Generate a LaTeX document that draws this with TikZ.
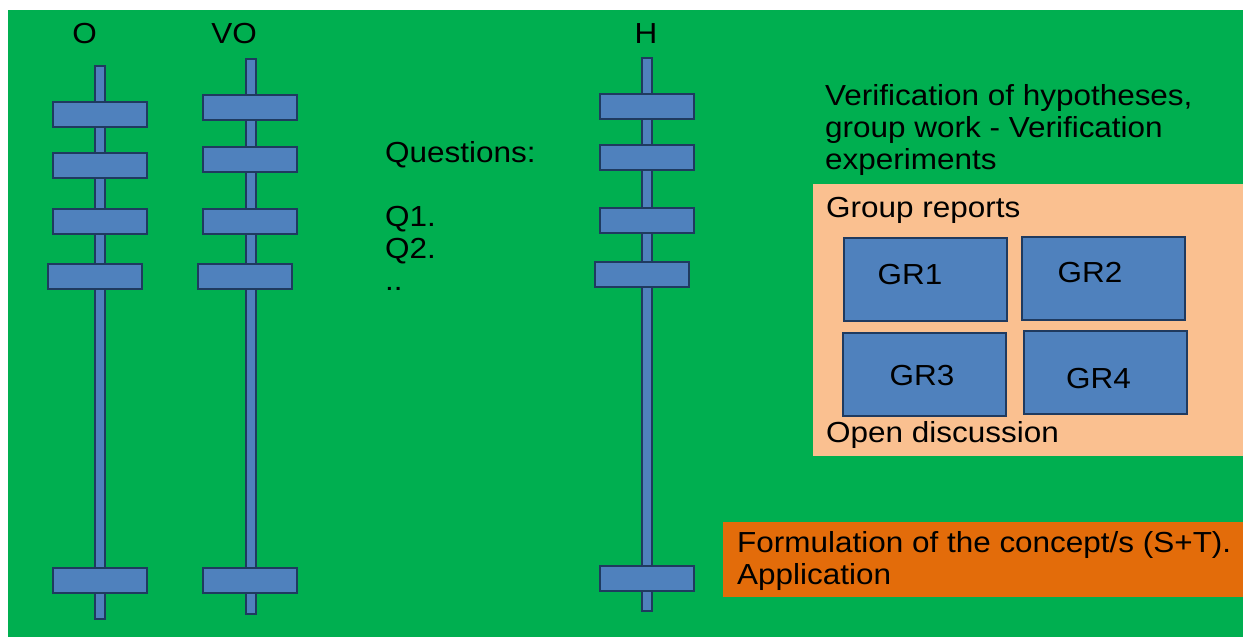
\documentclass[tikz,border=0pt]{standalone}
\usepackage{fontspec}
\setmainfont[FakeStretch=1.085]{Liberation Sans}
\usetikzlibrary{positioning}

\definecolor{bggreen}{HTML}{00AF50}
\definecolor{peach}{HTML}{FAC090}
\definecolor{deeporange}{HTML}{E36C0A}
\definecolor{boxblue}{HTML}{4F81BD}
\definecolor{edgeblue}{HTML}{1F3A5F}

\begin{document}
\begin{tikzpicture}[x=1pt, y=-1pt,
  pole/.style={draw=edgeblue, fill=boxblue, line width=2pt, minimum width=10pt, inner sep=0pt},
  slab/.style={draw=edgeblue, fill=boxblue, line width=2pt, minimum width=94pt, minimum height=25pt, inner sep=0pt},
  grbox/.style={draw=edgeblue, fill=boxblue, line width=2pt, minimum width=163pt, minimum height=83pt, inner sep=0pt},
  txt/.style={inner sep=0pt, font=\fontsize{29}{32}\selectfont, align=left}]
\fill[white] (0,0) rectangle (1243,637);
\fill[bggreen] (8,10) rectangle (1243,637);

% the three poles with their slabs
\node[txt, anchor=base] (labO) at (84.5,43) {O};
\node[txt, anchor=base] (labVO) at (234,43) {VO};
\node[txt, anchor=base] (labH) at (646,43) {H};

\node[pole, minimum height=553pt] (Opole) at (100,342.5) {};
\foreach \x/\y [count=\i] in {100/114.5,100/165.5,100/221.5,94.5/276.5,100/580}
  \node[slab] (O\i) at (\x,\y) {};

\node[pole, minimum height=555pt] (VOpole) at (250.5,336.5) {};
\foreach \x/\y [count=\i] in {250/107.5,250/159.5,250/221.5,244.5/276.5,250/580}
  \node[slab] (VO\i) at (\x,\y) {};

\node[pole, minimum height=553pt] (Hpole) at (646.5,334.5) {};
\foreach \x/\y [count=\i] in {647/106,647/157,647/220,641.5/274.5,647/578}
  \node[slab] (H\i) at (\x,\y) {};

% questions
\node[txt, anchor=north west] (quest) at (385,141) {Questions:\\[32pt]Q1.\\Q2.\\..};

% verification and group reports
\node[txt, anchor=north west] (verif) at (825,84)
  {Verification of hypotheses,\\group work - Verification\\experiments};
\fill[peach] (813,184) rectangle (1243,456);
\node[txt, anchor=base west] (reports) at (826,217) {Group reports};
\node[grbox, label={[txt, name=gr1txt, xshift=-15.5pt, yshift=5pt]center:GR1}] (gr1) at (925.5,279.5) {};
\node[grbox, label={[txt, name=gr2txt, xshift=-13.5pt, yshift=6pt]center:GR2}] (gr2) at (1103.5,278.5) {};
\node[grbox, label={[txt, name=gr3txt, xshift=-2.5pt, yshift=-1pt]center:GR3}] (gr3) at (924.5,374.5) {};
\node[grbox, label={[txt, name=gr4txt, xshift=-6.5pt, yshift=-6pt]center:GR4}] (gr4) at (1105,372.5) {};
\node[txt, anchor=base west] (discuss) at (826,442) {Open discussion};

% concept formulation
\fill[deeporange] (723,522) rectangle (1243,597);
\node[txt, anchor=north west] (concept) at (737,531)
  {Formulation of the concept/s (S+T).\\Application};
\end{tikzpicture}
\end{document}
